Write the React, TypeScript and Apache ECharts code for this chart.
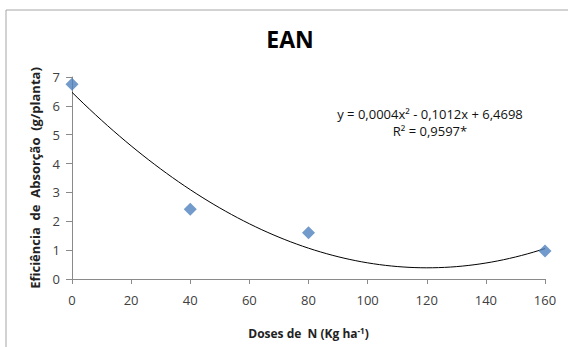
import React, { useEffect, useRef } from "react";
import * as echarts from "echarts";

const doses = [0, 40, 80, 160];
const ean = [6.75, 2.42, 1.6, 0.97];
const trendCoef = [0.000421, -0.1012, 6.4698]; // a, b, c of trendline
const xTicks = [0, 20, 40, 60, 80, 100, 120, 140, 160];
const yTicks = [0, 1, 2, 3, 4, 5, 6, 7];
const title = "EAN";
const eqLine1 = "y = 0,0004x² - 0,1012x + 6,4698";
const eqLine2 = "R² = 0,9597*";

export default function App() {
  const ref = useRef<HTMLDivElement>(null);
  useEffect(() => {
    const chart = echarts.init(ref.current!, null, { renderer: "svg" });
    const [a, b, c] = trendCoef;
    const curve: number[][] = [];
    for (let x = 0; x <= 160; x += 2) curve.push([x, a * x * x + b * x + c]);
    const font = "'Open Sans', 'Noto Sans', sans-serif";
    chart.setOption({
      animation: false,
      backgroundColor: "#fff",
      textStyle: { fontFamily: font },
      title: {
        text: title,
        left: 285,
        top: 22,
        textAlign: "center",
        textStyle: { fontSize: 23, fontWeight: "bold", color: "#000", fontFamily: font },
      },
      grid: { left: 72, right: 23, top: 77, bottom: 68 },
      xAxis: {
        type: "value",
        min: xTicks[0],
        max: xTicks[xTicks.length - 1],
        interval: 20,
        name: "Doses de  N (Kg ha{s|-1})",
        nameLocation: "middle",
        nameGap: 47,
        nameTextStyle: {
          fontSize: 12,
          fontWeight: "bold",
          color: "#222",
          fontFamily: font,
          rich: { s: { fontSize: 8, fontWeight: "bold", verticalAlign: "top", padding: [0, 0, 6, 0], color: "#222" } },
        },
        axisLine: { lineStyle: { color: "#8a8a8a", width: 1 } },
        axisTick: { show: true, length: 5, lineStyle: { color: "#8a8a8a" } },
        axisLabel: { fontSize: 13, color: "#404040", margin: 14, fontFamily: font },
        splitLine: { show: false },
      },
      yAxis: {
        type: "value",
        min: yTicks[0],
        max: yTicks[yTicks.length - 1],
        interval: 1,
        name: "Eficiência  de  Absorção  (g/planta)",
        nameLocation: "middle",
        nameGap: 28,
        nameTextStyle: { fontSize: 13, fontWeight: "bold", color: "#222", fontFamily: font },
        axisLine: { show: true, lineStyle: { color: "#8a8a8a", width: 1 } },
        axisTick: { show: true, length: 6, lineStyle: { color: "#8a8a8a" } },
        axisLabel: { fontSize: 13, color: "#404040", margin: 12, fontFamily: font },
        splitLine: { show: false },
      },
      graphic: [
        {
          type: "rect",
          shape: { x: 6, y: 10, width: 700, height: 500 },
          style: { fill: "none", stroke: "#a6a6a6", lineWidth: 1 },
          z: -1,
          silent: true,
        },
        {
          type: "text",
          x: 430,
          y: 107,
          style: { text: eqLine1, fontSize: 13, fill: "#111", textAlign: "center", fontFamily: font },
        },
        {
          type: "text",
          x: 430,
          y: 124,
          style: { text: eqLine2, fontSize: 13, fill: "#111", textAlign: "center", fontFamily: font },
        },
      ],
      series: [
        {
          type: "line",
          data: curve,
          showSymbol: false,
          smooth: false,
          lineStyle: { color: "#000", width: 1 },
          z: 1,
        },
        {
          type: "scatter",
          data: doses.map((d, i) => [d, ean[i]]),
          symbol: "diamond",
          symbolSize: 13,
          itemStyle: { color: "#4F81BD" },
          z: 2,
        },
      ],
    });
    return () => chart.dispose();
  }, []);
  return <div ref={ref} style={{ width: 568, height: 347, position: "absolute", left: 0, top: 0 }} />;
}
